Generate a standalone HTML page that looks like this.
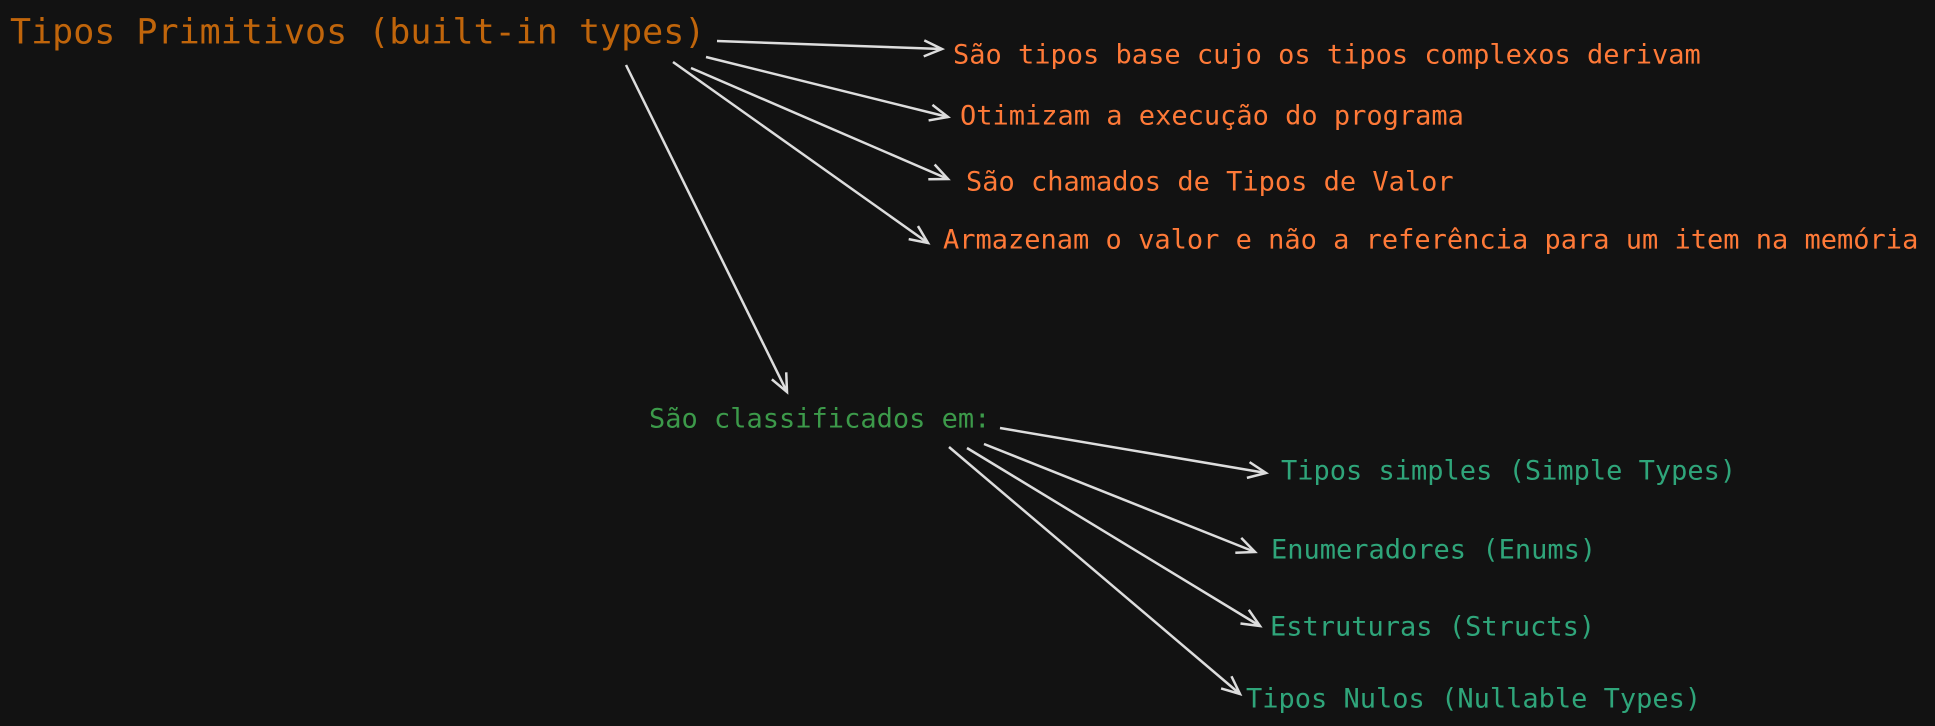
<!DOCTYPE html>
<html><head><meta charset="utf-8"><style>
body{margin:0;width:1935px;height:726px;background:#121212;overflow:hidden;position:relative;font-family:"DejaVu Sans Mono","Liberation Mono",monospace;}
.t{position:absolute;white-space:nowrap;line-height:1;transform:translateY(-50%);}
.o{color:#ff7a38;font-size:27px;}
.tl{color:#2fa57a;font-size:27px;}
</style></head><body>
<svg width="1935" height="726" style="position:absolute;left:0;top:0">
<defs><marker id="a" markerWidth="24" markerHeight="24" refX="20" refY="10" orient="auto" markerUnits="userSpaceOnUse"><path d="M2,2 L20,10 L2,18" fill="none" stroke="#ddd" stroke-width="2.5"/></marker></defs>
<g stroke="#ddd" stroke-width="2.5" fill="none" marker-end="url(#a)">
<line x1="717" y1="41" x2="942" y2="49"/>
<line x1="706" y1="57" x2="948" y2="117"/>
<line x1="691" y1="68" x2="948" y2="179"/>
<line x1="673" y1="62" x2="928" y2="243"/>
<line x1="626" y1="65" x2="787" y2="392"/>
<line x1="1000" y1="428" x2="1266" y2="473"/>
<line x1="984" y1="444" x2="1255" y2="552"/>
<line x1="967" y1="448" x2="1260" y2="626"/>
<line x1="949" y1="447" x2="1240" y2="694"/>
</g></svg>
<div class="t" style="left:10px;top:33px;color:#c0650b;font-size:35px;">Tipos Primitivos (built-in types)</div>
<div class="t o" style="left:953px;top:55px">São tipos base cujo os tipos complexos derivam</div>
<div class="t o" style="left:960px;top:116px">Otimizam a execução do programa</div>
<div class="t o" style="left:966px;top:182px">São chamados de Tipos de Valor</div>
<div class="t o" style="left:943px;top:240px">Armazenam o valor e não a referência para um item na memória</div>
<div class="t" style="left:649px;top:419px;color:#3c9a4a;font-size:27px">São classificados em:</div>
<div class="t tl" style="left:1281px;top:471px">Tipos simples (Simple Types)</div>
<div class="t tl" style="left:1271px;top:550px">Enumeradores (Enums)</div>
<div class="t tl" style="left:1270px;top:627px">Estruturas (Structs)</div>
<div class="t tl" style="left:1246px;top:699px">Tipos Nulos (Nullable Types)</div>
</body></html>
